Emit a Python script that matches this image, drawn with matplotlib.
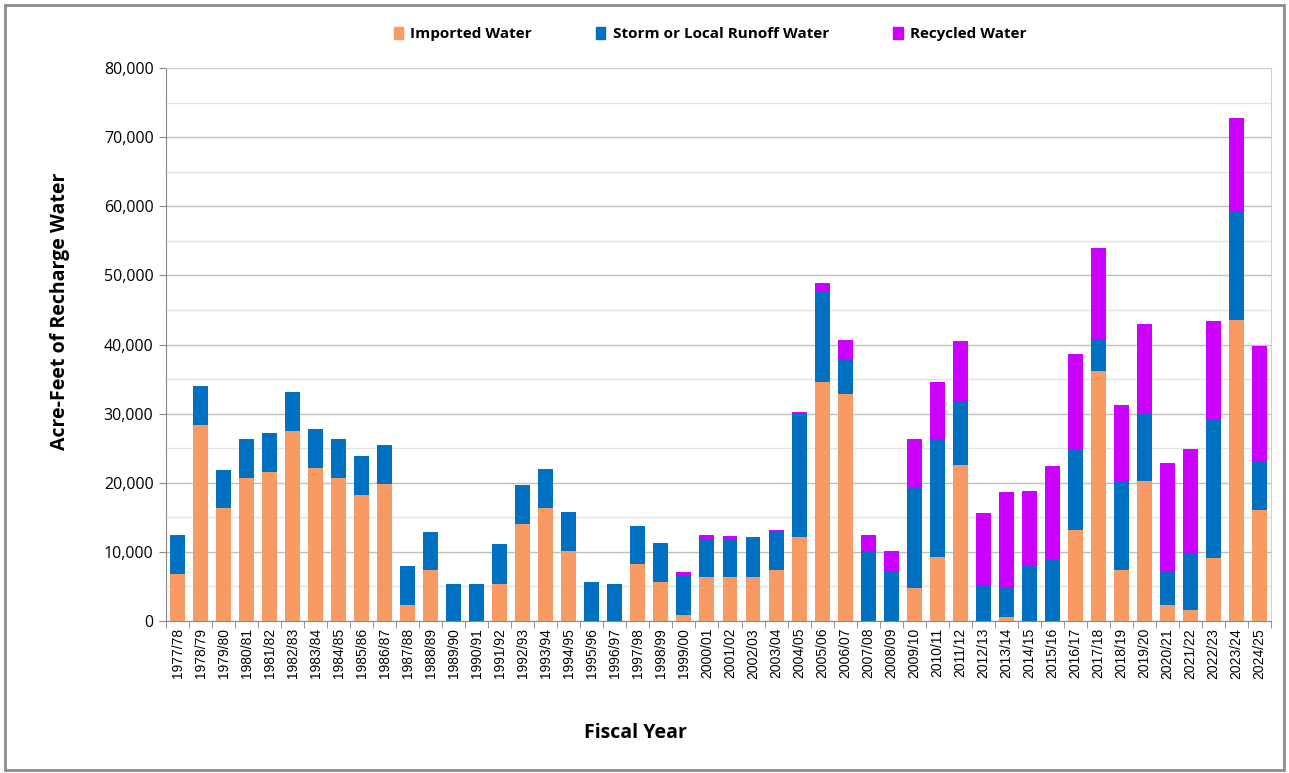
import matplotlib
matplotlib.use('Agg')
import matplotlib.pyplot as plt
from matplotlib.ticker import FuncFormatter, MultipleLocator
from matplotlib.patches import Rectangle, Patch
import numpy as np

years = ['1977/78', '1978/79', '1979/80', '1980/81', '1981/82', '1982/83', '1983/84', '1984/85',
         '1985/86', '1986/87', '1987/88', '1988/89', '1989/90', '1990/91', '1991/92', '1992/93',
         '1993/94', '1994/95', '1995/96', '1996/97', '1997/98', '1998/99', '1999/00', '2000/01',
         '2001/02', '2002/03', '2003/04', '2004/05', '2005/06', '2006/07', '2007/08', '2008/09',
         '2009/10', '2010/11', '2011/12', '2012/13', '2013/14', '2014/15', '2015/16', '2016/17',
         '2017/18', '2018/19', '2019/20', '2020/21', '2021/22', '2022/23', '2023/24', '2024/25']

imported = [6800, 28300, 16400, 20750, 21550, 27500, 22150, 20750,
            18250, 19850, 2300, 7350, 0, 0, 5400, 14050,
            16400, 10150, 0, 0, 8250, 5600, 900, 6400,
            6400, 6400, 7450, 12150, 34550, 32800, 0, 0,
            4800, 9300, 22550, 0, 650, 0, 0, 13100,
            36150, 7350, 20200, 2300, 1550, 9150, 43600, 16000]

storm = [5700, 5700, 5450, 5650, 5600, 5650, 5650, 5650,
         5650, 5600, 5650, 5600, 5400, 5400, 5700, 5600,
         5600, 5600, 5600, 5400, 5500, 5650, 5600, 5350,
         5350, 5550, 5600, 17800, 13050, 4900, 10100, 7300,
         14400, 17050, 9150, 5100, 4300, 7950, 9000, 11650,
         4550, 12800, 9750, 4750, 8100, 20000, 15650, 7150]

recycled = [0, 0, 0, 0, 0, 0, 0, 0,
            0, 0, 0, 0, 0, 0, 0, 0,
            0, 0, 0, 0, 0, 0, 550, 750,
            600, 150, 150, 300, 1300, 2950, 2400, 2850,
            7200, 8200, 8800, 10500, 13700, 10850, 13400, 13900,
            13200, 11100, 13050, 15800, 15200, 14300, 13550, 16700]

c_imp = '#F79A64'
c_storm = '#0070C0'
c_rec = '#CC00FF'

fig = plt.figure(figsize=(12.89, 7.73), dpi=100)
ax = fig.add_axes([0.1288, 0.1966, 0.8572, 0.7154])

x = np.arange(len(years))
imp = np.array(imported)
st = np.array(storm)
rec = np.array(recycled)
w = 0.65
ax.bar(x, imp, width=w, color=c_imp, zorder=3)
ax.bar(x, st, width=w, bottom=imp, color=c_storm, zorder=3)
ax.bar(x, rec, width=w, bottom=imp + st, color=c_rec, zorder=3)

ax.set_xlim(-0.5, len(years) - 0.5)
ax.set_ylim(0, 80000)
ax.yaxis.set_major_locator(MultipleLocator(10000))
ax.yaxis.set_minor_locator(MultipleLocator(5000))
ax.yaxis.set_major_formatter(FuncFormatter(lambda v, p: '{:,.0f}'.format(v)))
ax.grid(axis='y', which='major', color='#BFBFBF', linewidth=1.0, zorder=0)
ax.grid(axis='y', which='minor', color='#E3E3E3', linewidth=1.0, zorder=0)
ax.tick_params(axis='y', which='minor', length=0)
ax.tick_params(axis='y', which='major', length=5, color='#888888', labelsize=11.5, pad=4)

ax.set_xticks(x)
ax.set_xticklabels(years, rotation=90, fontsize=10, family='Liberation Sans')
ax.set_xticks(np.arange(-0.5, len(years)), minor=True)
ax.tick_params(axis='x', which='major', length=0, pad=5)
ax.tick_params(axis='x', which='minor', length=5, color='#888888')

for s in ['top', 'right']:
    ax.spines[s].set_color('#D0D0D0')
for s in ['left', 'bottom']:
    ax.spines[s].set_color('#888888')

for lab in ax.get_yticklabels():
    lab.set_family('Open Sans')

ax.set_ylabel('Acre-Feet of Recharge Water', fontsize=14, fontweight='bold', family='Open Sans')
ax.yaxis.set_label_coords(-0.087, 0.56)
fig.text(0.493, 0.045, 'Fiscal Year', fontsize=14, fontweight='bold', family='Open Sans', ha='center')

handles = [Patch(color=c_imp, label='Imported Water'),
           Patch(color=c_storm, label='Storm or Local Runoff Water'),
           Patch(color=c_rec, label='Recycled Water')]
fig.legend(handles=handles, loc='center', bbox_to_anchor=(0.551, 0.956), ncol=3, frameon=False,
           handlelength=0.6, handleheight=0.9, handletextpad=0.5, columnspacing=4.2,
           prop={'family': 'Open Sans', 'weight': 'bold', 'size': 11})

fig.patches.append(Rectangle((0.004, 0.004), 0.992, 0.99, transform=fig.transFigure,
                             fill=False, edgecolor='#8C8C8C', linewidth=2))

plt.savefig('out.png')
